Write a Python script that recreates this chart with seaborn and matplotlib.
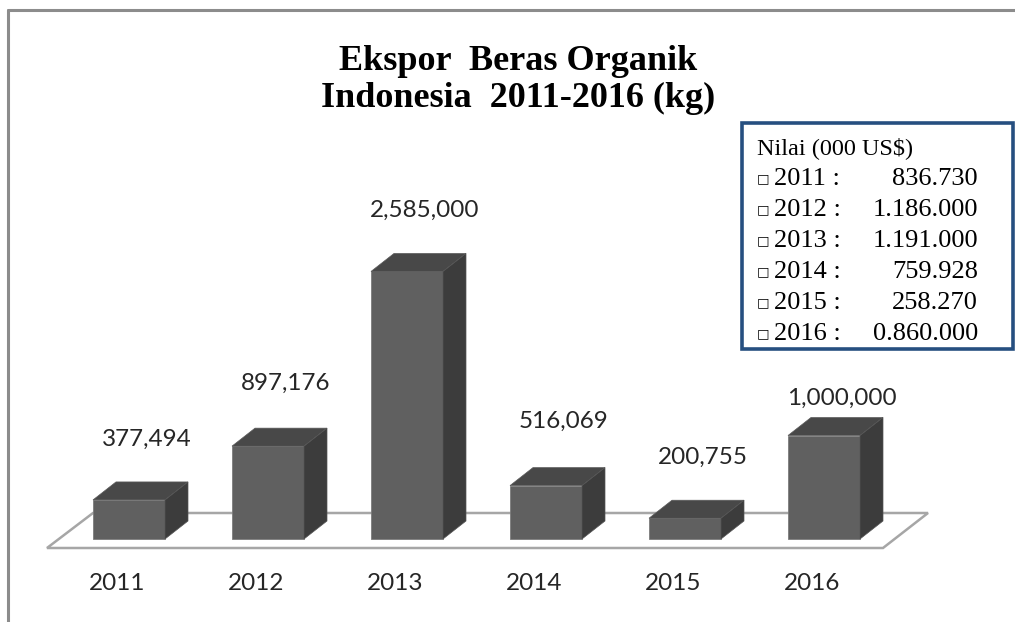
import numpy as np
import pandas as pd
import seaborn as sns
import matplotlib.pyplot as plt
from matplotlib.patches import Polygon, Rectangle
from matplotlib.lines import Line2D

years = ['2011', '2012', '2013', '2014', '2015', '2016']
export_kg = [377494, 897176, 2585000, 516069, 200755, 1000000]
value_labels = ['377,494', '897,176', '2,585,000', '516,069', '200,755', '1,000,000']

legend_title = 'Nilai (000 US$)'
legend_values = ['836.730', '1.186.000', '1.191.000', '759.928', '258.270', '0.860.000']

df = pd.DataFrame({'year': years, 'kg': export_kg})

sns.set_style('white')
W, H = 1015, 622
fig = plt.figure(figsize=(W / 100, H / 100), dpi=100)
ax = fig.add_axes([0, 0, 1, 1])

# pixel scale of the plot area
step_px = 139.0          # px between bar centres
unit_px = 103.5 / 1e6    # px per kg
x0_px, y0_px = 129.0, 539.0
px_x = 1 / step_px
px_y = 1 / unit_px

bar_w = 72 * px_x
dx, dy = 23 * px_x, 18 * px_y

front_col = '#606060'
top_col = '#484848'
side_col = '#3c3c3c'

# floor
floor = Polygon([(-82 * px_x, -9 * px_y), (5 + 59 * px_x, -9 * px_y),
                 (5 + 104 * px_x, 26 * px_y), (-36 * px_x, 26 * px_y)],
                closed=True, facecolor='white', edgecolor='#a6a6a6', lw=1.8, zorder=1)
ax.add_patch(floor)

sns.barplot(data=df, x='year', y='kg', order=years, color=front_col, saturation=1,
            width=bar_w, edgecolor='#7c7c7c', linewidth=0.6, ax=ax, zorder=3)

for i, v in enumerate(export_kg):
    l, r = i - bar_w / 2, i + bar_w / 2
    ax.add_patch(Polygon([(l, v), (r, v), (r + dx, v + dy), (l + dx, v + dy)],
                         closed=True, facecolor=top_col, edgecolor='#5a5a5a', lw=0.5, zorder=3))
    ax.add_patch(Polygon([(r, 0), (r + dx, dy), (r + dx, v + dy), (r, v)],
                         closed=True, facecolor=side_col, edgecolor='#555555', lw=0.5, zorder=3))

label_lift_px = [61, 63, 61, 64, 61, 37]
for i, (v, lab) in enumerate(zip(export_kg, value_labels)):
    ax.text(i + 18 * px_x, v + label_lift_px[i] * px_y, lab, ha='center', va='center',
            fontsize=17.5, family='Lato', color='#262626', zorder=5)
    ax.text(i - 12 * px_x, -44 * px_y, years[i], ha='center', va='center',
            fontsize=17.5, family='Lato', color='#262626', zorder=5)

ax.set_xlim(-x0_px * px_x, (W - x0_px) * px_x)
ax.set_ylim(-(H - y0_px) * px_y, y0_px * px_y)
ax.axis('off')

# outer frame
fig.add_artist(Line2D([8 / W, 1], [1 - 10 / H, 1 - 10 / H], color='#8c8c8c', lw=2.2))
fig.add_artist(Line2D([8 / W, 8 / W], [0, 1 - 10 / H], color='#8c8c8c', lw=2.2))

# title
fig.text(518 / W, 1 - 80 / H, 'Ekspor  Beras Organik\nIndonesia  2011-2016 (kg)',
         ha='center', va='center', fontsize=26, fontweight='bold', color='black',
         family='Liberation Serif', linespacing=1.15)

# value box
fig.add_artist(Rectangle((742 / W, 1 - 349 / H), (1013 - 742) / W, (349 - 123) / H,
                         transform=fig.transFigure, facecolor='white',
                         edgecolor='#264f80', lw=2.6, zorder=5))
row0, row_step = 148, 31
fig.text(757 / W, 1 - row0 / H, legend_title, ha='left', va='center', fontsize=17.5,
         family='Liberation Serif', color='black', zorder=6)
for k, (yr, val) in enumerate(zip(years, legend_values)):
    yy = 1 - (row0 + row_step * (k + 1)) / H
    fig.text(757 / W, yy, '\u25a1', ha='left', va='center', fontsize=9.5,
             family='DejaVu Sans', color='black', zorder=6)
    fig.text(774 / W, yy, yr + ' :', ha='left', va='center', fontsize=19,
             family='Liberation Serif', color='black', zorder=6)
    fig.text(978 / W, yy, val, ha='right', va='center', fontsize=19,
             family='Liberation Serif', color='black', zorder=6)

fig.savefig('out.png', dpi=100)
